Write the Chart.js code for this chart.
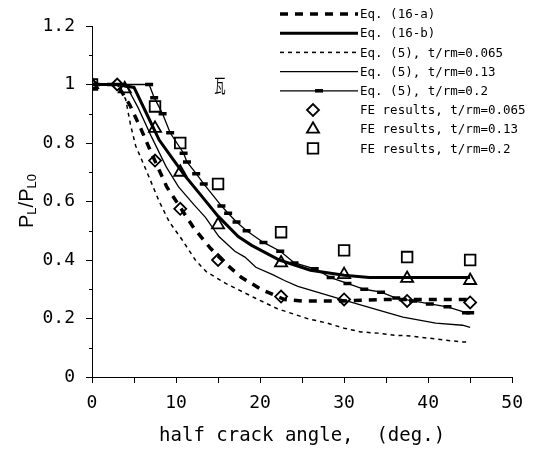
<!DOCTYPE html>
<html>
<head>
<meta charset="utf-8">
<script src="https://cdn.jsdelivr.net/npm/chart.js@4.4.1/dist/chart.umd.min.js"></script>
<style>
  html, body { margin: 0; background: #fff; }
</style>
</head>
<body>
<canvas id="chart" width="533" height="452"></canvas>
<script>
// curves (angle in deg, PL/PL0)
const eq16aX = [0, 3, 4.5, 5.8, 7, 8.9, 10.5, 12.1, 14.1, 16, 17.8, 20.1, 22.9, 25, 30, 35, 40, 45];
const eq16aY = [1, 1, 0.93, 0.85, 0.77, 0.65, 0.58, 0.51, 0.44, 0.385, 0.34, 0.3, 0.265, 0.26, 0.26, 0.265, 0.265, 0.265];

const eq16bX = [0, 3, 5, 6.5, 8, 9.5, 11, 13, 15, 17.4, 19, 22.3, 26, 30, 33, 36, 40, 45];
const eq16bY = [1, 1, 0.99, 0.9, 0.81, 0.75, 0.69, 0.62, 0.55, 0.48, 0.45, 0.4, 0.365, 0.348, 0.34, 0.34, 0.34, 0.34];

const eq5aX = [0, 3, 4, 4.6, 5.2, 6.4, 8, 9.2, 10.7, 12.3, 13.6, 15.9, 19.4, 22.1, 25.6, 28, 30, 32, 34, 36, 38, 40, 42, 44, 45];
const eq5aY = [1, 1, 0.95, 0.86, 0.79, 0.71, 0.6, 0.53, 0.47, 0.4, 0.36, 0.32, 0.27, 0.233, 0.2, 0.184, 0.167, 0.154, 0.15, 0.143, 0.14, 0.133, 0.126, 0.12, 0.12];

const eq5bX = [0, 3, 4.2, 5.5, 7.1, 8.8, 10.3, 12.1, 13.5, 15.1, 17, 18.2, 19.5, 21.5, 22.9, 24.5, 28, 30, 33.9, 37, 40.9, 44.1, 45];
const eq5bY = [1, 1, 0.99, 0.92, 0.82, 0.72, 0.65, 0.59, 0.546, 0.48, 0.43, 0.41, 0.375, 0.35, 0.33, 0.31, 0.28, 0.263, 0.23, 0.205, 0.184, 0.177, 0.17];

const eq5cX = [0, 3, 6.8, 7.4, 8.4, 9.3, 10.9, 11.3, 12.4, 13.3, 15.4, 16.2, 17.2, 18.4, 20.4, 22.4, 24.1, 26.5, 28.4, 30.4, 32.4, 34.4, 36.2, 38.2, 40.2, 42.3, 44.5, 45];
const eq5cY = [1, 1, 1, 0.955, 0.9, 0.835, 0.765, 0.735, 0.695, 0.66, 0.585, 0.56, 0.53, 0.5, 0.46, 0.43, 0.39, 0.37, 0.34, 0.32, 0.3, 0.29, 0.27, 0.26, 0.25, 0.24, 0.22, 0.22];

// FE results
const fe065X = [0, 3, 7.5, 10.5, 15, 22.5, 30, 37.5, 45];
const fe065Y = [1, 1, 0.74, 0.575, 0.4, 0.275, 0.265, 0.26, 0.255];

const fe013X = [0, 3.9, 7.5, 10.5, 15, 22.5, 30, 37.5, 45];
const fe013Y = [1, 0.985, 0.85, 0.7, 0.52, 0.39, 0.35, 0.337, 0.33];

const fe02X = [0, 7.5, 10.5, 15, 22.5, 30, 37.5, 45];
const fe02Y = [1, 0.925, 0.8, 0.66, 0.495, 0.433, 0.41, 0.4];

const xTicks = [0, 10, 20, 30, 40, 50];
const yTicks = [0, 0.2, 0.4, 0.6, 0.8, 1, 1.2];

const labels = [
  "Eq. (16-a)",
  "Eq. (16-b)",
  "Eq. (5), t/rm=0.065",
  "Eq. (5), t/rm=0.13",
  "Eq. (5), t/rm=0.2",
  "FE results, t/rm=0.065",
  "FE results, t/rm=0.13",
  "FE results, t/rm=0.2",
];

const pts = (xs, ys) => xs.map((x, i) => ({ x: x, y: ys[i] }));

const lineSet = (label, xs, ys, extra) => Object.assign({
  label: label,
  data: pts(xs, ys),
  borderColor: "#000",
  backgroundColor: "#000",
  borderWidth: 1.3,
  pointRadius: 0,
  tension: 0,
  showLine: true,
}, extra);

const feSet = (label, xs, ys, style, r) => ({
  label: label,
  data: pts(xs, ys),
  showLine: false,
  pointStyle: style,
  pointRadius: r,
  pointBorderWidth: 1.8,
  pointBorderColor: "#000",
  pointBackgroundColor: "rgba(0,0,0,0)",
});

const mono = '"DejaVu Sans Mono", monospace';

const overlay = {
  id: "overlay",
  afterDraw(chart) {
    const ctx = chart.ctx;
    const ys = chart.scales.y;
    ctx.save();

    // short minor ticks on the y axis
    ctx.strokeStyle = "#000";
    ctx.lineWidth = 1;
    for (let k = 1; k < 12; k += 2) {
      const py = Math.round(ys.getPixelForValue(k / 10)) + 0.5;
      ctx.beginPath();
      ctx.moveTo(ys.right - 3, py);
      ctx.lineTo(ys.right, py);
      ctx.stroke();
    }

    // y title with subscripts
    ctx.save();
    ctx.translate(33, 228);
    ctx.rotate(-Math.PI / 2);
    ctx.fillStyle = "#000";
    ctx.textAlign = "left";
    ctx.textBaseline = "alphabetic";
    let tx = 0;
    const part = (t, size, dy) => {
      ctx.font = size + 'px "Liberation Sans", Arial, sans-serif';
      ctx.fillText(t, tx, dy);
      tx += ctx.measureText(t).width;
    };
    part("P", 20, 0);
    part("L", 13, 3);
    part("/", 20, 0);
    part("P", 20, 0);
    part("L0", 13, 3);
    ctx.restore();

    // stray glyph in the plot
    ctx.save();
    ctx.translate(220, 86);
    ctx.scale(0.6, 1);
    ctx.font = '19px "Noto Sans CJK JP"';
    ctx.fillStyle = "#000";
    ctx.textAlign = "center";
    ctx.textBaseline = "middle";
    ctx.fillText("瓦", 0, 0);
    ctx.restore();

    // legend
    ctx.font = "12.5px " + mono;
    ctx.textAlign = "left";
    ctx.textBaseline = "middle";
    chart.data.datasets.forEach((ds, i) => {
      const ry = 14 + i * 19.2;
      ctx.strokeStyle = "#000";
      ctx.fillStyle = "#000";
      if (ds.showLine) {
        ctx.save();
        ctx.lineWidth = ds.borderWidth;
        ctx.setLineDash(ds.borderDash || []);
        ctx.beginPath();
        ctx.moveTo(280, ry);
        ctx.lineTo(358, ry);
        ctx.stroke();
        ctx.restore();
        if (ds.pointRadius > 0) {
          ctx.lineWidth = ds.pointBorderWidth;
          Chart.helpers.drawPoint(ctx, { pointStyle: ds.pointStyle, radius: ds.pointRadius, borderWidth: ds.pointBorderWidth, rotation: 0 }, 319, ry);
        }
      } else {
        ctx.save();
        ctx.lineWidth = ds.pointBorderWidth;
        ctx.fillStyle = "rgba(0,0,0,0)";
        Chart.helpers.drawPoint(ctx, { pointStyle: ds.pointStyle, radius: ds.pointRadius, borderWidth: ds.pointBorderWidth, rotation: 0 }, 313, ry);
        ctx.restore();
      }
      ctx.fillStyle = "#000";
      ctx.fillText(ds.label, 360, ry + 1);
    });

    ctx.restore();
  },
};

new Chart(document.getElementById("chart").getContext("2d"), {
  type: "scatter",
  data: {
    datasets: [
      lineSet(labels[0], eq16aX, eq16aY, { borderWidth: 3.5, borderDash: [8, 7] }),
      lineSet(labels[1], eq16bX, eq16bY, { borderWidth: 3 }),
      lineSet(labels[2], eq5aX, eq5aY, { borderWidth: 1.5, borderDash: [4, 4] }),
      lineSet(labels[3], eq5bX, eq5bY, {}),
      lineSet(labels[4], eq5cX, eq5cY, { pointStyle: "line", pointRadius: 4, pointBorderWidth: 3.5, pointBorderColor: "#000" }),
      feSet(labels[5], fe065X, fe065Y, "rectRot", 6),
      feSet(labels[6], fe013X, fe013Y, "triangle", 7),
      feSet(labels[7], fe02X, fe02Y, "rect", 7.5),
    ],
  },
  options: {
    responsive: false,
    devicePixelRatio: 1,
    animation: false,
    layout: { padding: { top: 26, right: 16, left: 0, bottom: 0 } },
    plugins: {
      legend: { display: false },
      tooltip: { enabled: false },
    },
    scales: {
      x: {
        type: "linear",
        min: 0,
        max: 50,
        afterFit: (scale) => { scale.height = 75; },
        ticks: {
          stepSize: 5,
          autoSkip: false,
          maxRotation: 0,
          padding: 10,
          color: "#000",
          font: { family: mono, size: 18 },
          callback: (v) => (xTicks.includes(v) ? String(v) : ""),
        },
        grid: { drawOnChartArea: false, drawTicks: true, tickLength: 6, tickColor: "#000", color: "#000" },
        border: { color: "#000", width: 1 },
        title: {
          display: true,
          text: "half crack angle,  (deg.)",
          color: "#000",
          font: { family: mono, size: 19 },
          padding: { top: 0, bottom: 5 },
        },
      },
      y: {
        type: "linear",
        min: 0,
        max: 1.2,
        afterFit: (scale) => { scale.width = 92; },
        ticks: {
          stepSize: 0.1,
          autoSkip: false,
          padding: 11,
          color: "#000",
          font: { family: mono, size: 18 },
          callback: (v) => {
            const r = Math.round(v * 10) / 10;
            return yTicks.includes(r) ? String(r) : "";
          },
        },
        grid: {
          drawOnChartArea: false,
          drawTicks: true,
          tickLength: 6,
          color: "#000",
          tickColor: (c) => (Math.round(c.tick.value * 10) % 2 ? "rgba(0,0,0,0)" : "#000"),
        },
        border: { color: "#000", width: 1 },
      },
    },
  },
  plugins: [overlay],
});
</script>
</body>
</html>
